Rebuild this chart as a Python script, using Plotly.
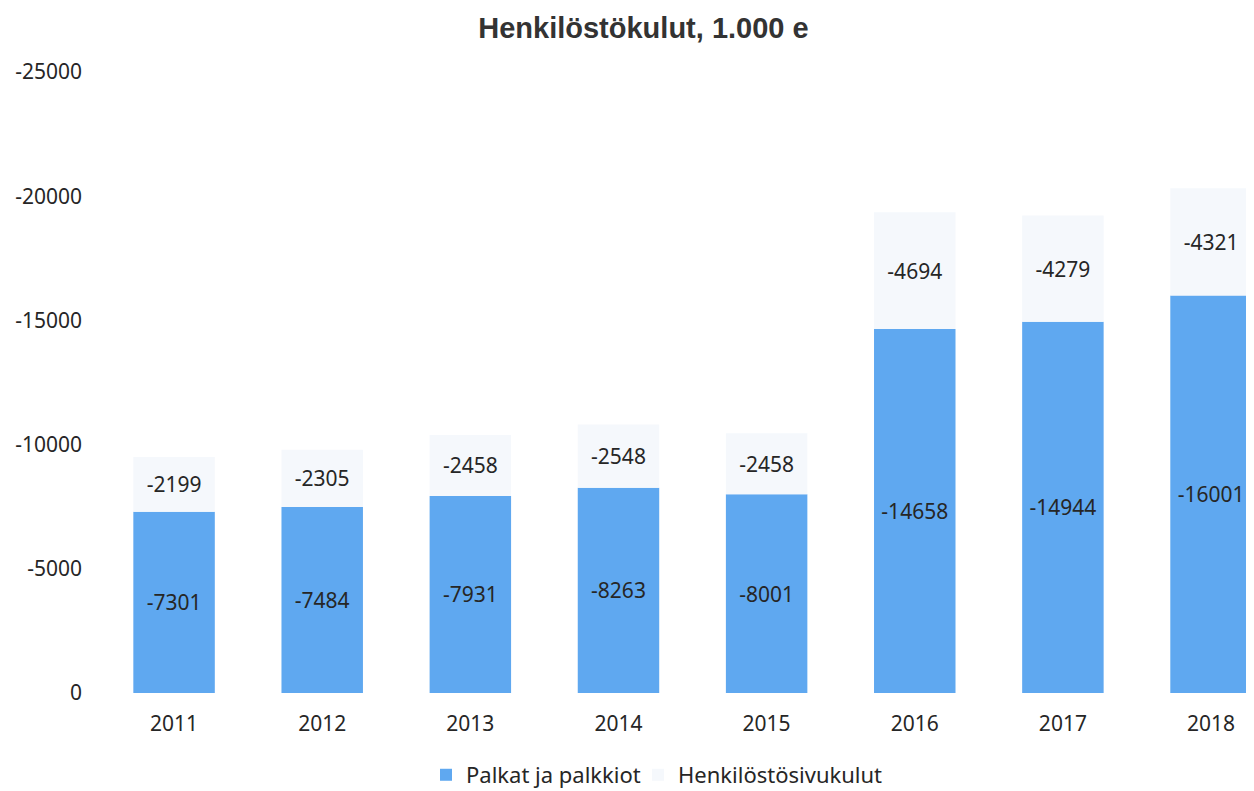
import plotly.graph_objects as go

years = ["2011", "2012", "2013", "2014", "2015", "2016", "2017", "2018"]
palkat = [-7301, -7484, -7931, -8263, -8001, -14658, -14944, -16001]
sivukulut = [-2199, -2305, -2458, -2548, -2458, -4694, -4279, -4321]
y_ticks = [0, -5000, -10000, -15000, -20000, -25000]

FONT = "Noto Sans"
TXT = "#262626"

fig = go.Figure()
fig.add_trace(go.Bar(
    x=years, y=palkat, name="Palkat ja palkkiot",
    marker=dict(color="#5fa8f0", line=dict(width=0)),
    text=[str(v) for v in palkat], textposition="inside", insidetextanchor="middle",
    textfont=dict(family=FONT, size=21, color=TXT), textangle=0,
    legend="legend",
))
fig.add_trace(go.Bar(
    x=years, y=sivukulut, name="Henkilöstösivukulut",
    marker=dict(color="#f5f8fc", line=dict(width=0)),
    text=[str(v) for v in sivukulut], textposition="inside", insidetextanchor="middle",
    textfont=dict(family=FONT, size=21, color=TXT), textangle=0,
    legend="legend2",
))

legend_common = dict(orientation="h", xanchor="left", y=-0.132, yanchor="middle",
                     font=dict(family=FONT, size=22, color=TXT),
                     itemwidth=30, bgcolor="rgba(0,0,0,0)")

# page body has an 8px margin, so the figure is sized/offset to compensate
fig.update_layout(
    barmode="relative",
    bargap=0.45,
    width=1246, height=783,
    margin=dict(l=92, r=0, t=64, b=98, autoexpand=False),
    paper_bgcolor="white", plot_bgcolor="white",
    title=dict(text="<b>Henkilöstökulut, 1.000 e</b>", x=0.510, xanchor="center",
               y=0.9745, yanchor="middle",
               font=dict(family="Liberation Sans", size=29, color="#333333")),
    font=dict(family=FONT, size=21, color=TXT),
    uniformtext=dict(mode=False),
    legend=dict(x=0.2825, **legend_common),
    legend2=dict(x=0.4662, **legend_common),
    showlegend=True,
)
fig.update_xaxes(range=[-0.5, 7.29], showgrid=False, showline=False, ticks="",
                 automargin=False, ticklabelstandoff=16,
                 tickfont=dict(family=FONT, size=21, color=TXT))
fig.update_yaxes(range=[0, -25000], tickvals=y_ticks, ticktext=[str(v) for v in y_ticks],
                 showgrid=False, zeroline=False, showline=False, ticks="",
                 automargin=False, ticklabelstandoff=17,
                 tickfont=dict(family=FONT, size=21, color=TXT))

fig.write_html("out.html")
